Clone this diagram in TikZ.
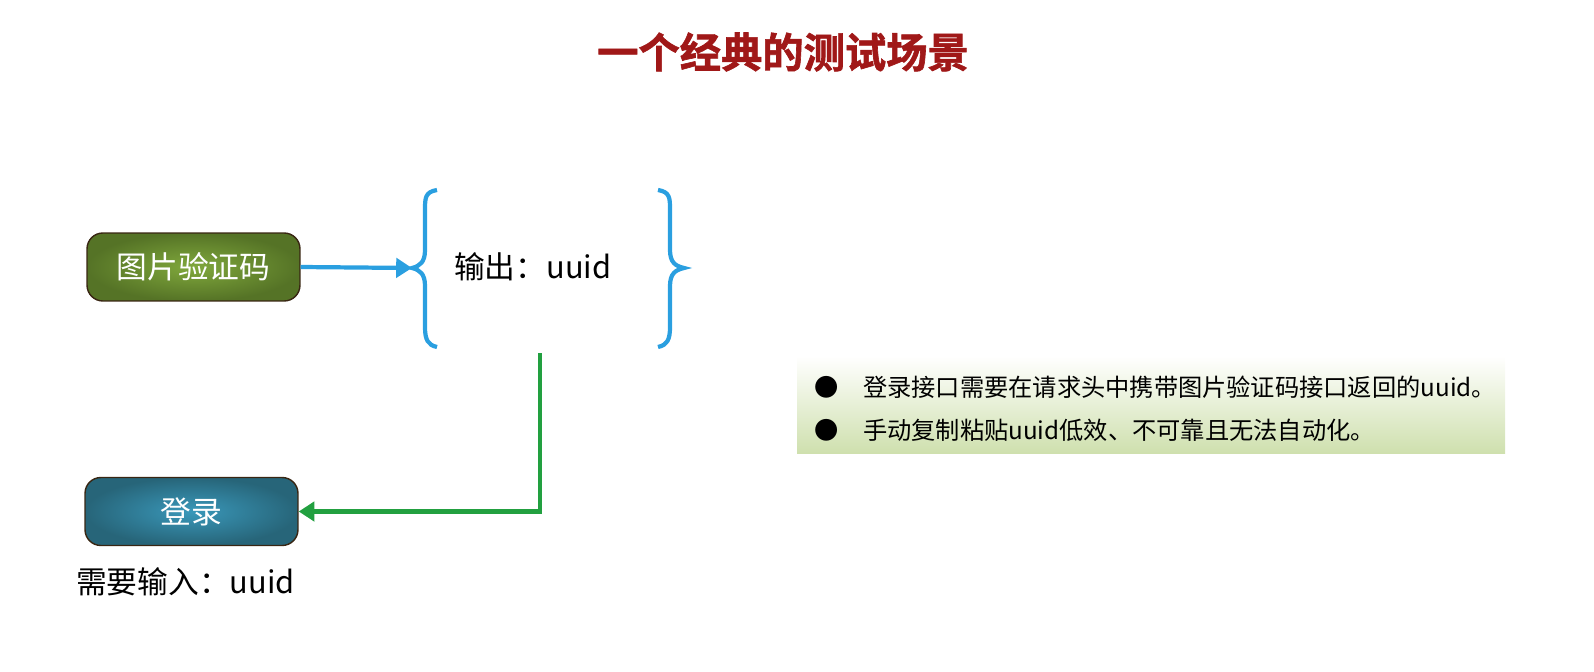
\documentclass[tikz,border=0pt]{standalone}
\usepackage{fontspec}
\setmainfont{Noto Sans CJK SC}
\newfontfamily\ttlfont{Noto Sans CJK SC Bold}[FakeBold=1.5]
\usetikzlibrary{arrows.meta,shadings}
\definecolor{ttl}{HTML}{A01818}
\definecolor{brc}{HTML}{2A9FE0}
\definecolor{grn}{HTML}{22A040}
\definecolor{gin}{HTML}{80A83C}
\definecolor{gout}{HTML}{557326}
\definecolor{bin}{HTML}{3A98BA}
\definecolor{bout}{HTML}{276579}
\definecolor{boxg}{HTML}{CFE0AE}
\begin{document}
\begin{tikzpicture}[x=0.02cm,y=-0.02cm,
  stepbox/.style={rounded corners=9pt,draw=black!70!brown,line width=0.8pt,minimum width=4.26cm,minimum height=1.36cm,text=white,font=\fontsize{17.5}{20}\selectfont},
  lbl/.style={font=\fontsize{17.5}{20}\selectfont},
  bul/.style={font=\fontsize{13.8}{16}\selectfont,anchor=west}]
\useasboundingbox (0,0) rectangle (1594,672);
\node[text=ttl,font=\fontsize{23.5}{26}\selectfont\ttlfont] (title) at (783,52) {一个经典的测试场景};
\node[stepbox,inner color=gin,outer color=gout] (cap) at (193.5,267) {图片验证码};
\node[stepbox,inner color=bin,outer color=bout] (login) at (191.5,511.5) {登录};
\coordinate (lb) at (412,268);
\draw[brc,line width=2.4pt] (437,190) .. controls (425,192) and (425,198) .. (425,210) -- (425,250) .. controls (425,262) and (420,266) .. (lb) .. controls (420,270) and (425,274) .. (425,286) -- (425,327) .. controls (425,340) and (428,345) .. (437,347);
\draw[brc,line width=2.4pt] (658,190) .. controls (670,192) and (670,198) .. (670,210) -- (670,250) .. controls (670,262) and (675,266) .. (684,268) .. controls (675,270) and (670,274) .. (670,286) -- (670,327) .. controls (670,340) and (667,345) .. (658,347);
\node[lbl,anchor=west] (out) at (448,267) {输出：uuid};
\draw[brc,line width=2.4pt,-{Triangle[length=9pt,width=11pt]}] (cap.east) -- (lb);
\coordinate (gtop) at (540,353);
\draw[grn,line width=2.4pt,-{Triangle[length=9pt,width=11pt]}] (gtop) |- (login.east);
\node[lbl,anchor=west] (need) at (70,582) {需要输入：uuid};
\shade[top color=white,bottom color=boxg] (797,356) rectangle (1505,453);
\node[bul] (b1) at (808,387) {●\hspace{14pt}登录接口需要在请求头中携带图片验证码接口返回的uuid。};
\node[bul] (b2) at (808,430) {●\hspace{14pt}手动复制粘贴uuid低效、不可靠且无法自动化。};
\end{tikzpicture}
\end{document}
